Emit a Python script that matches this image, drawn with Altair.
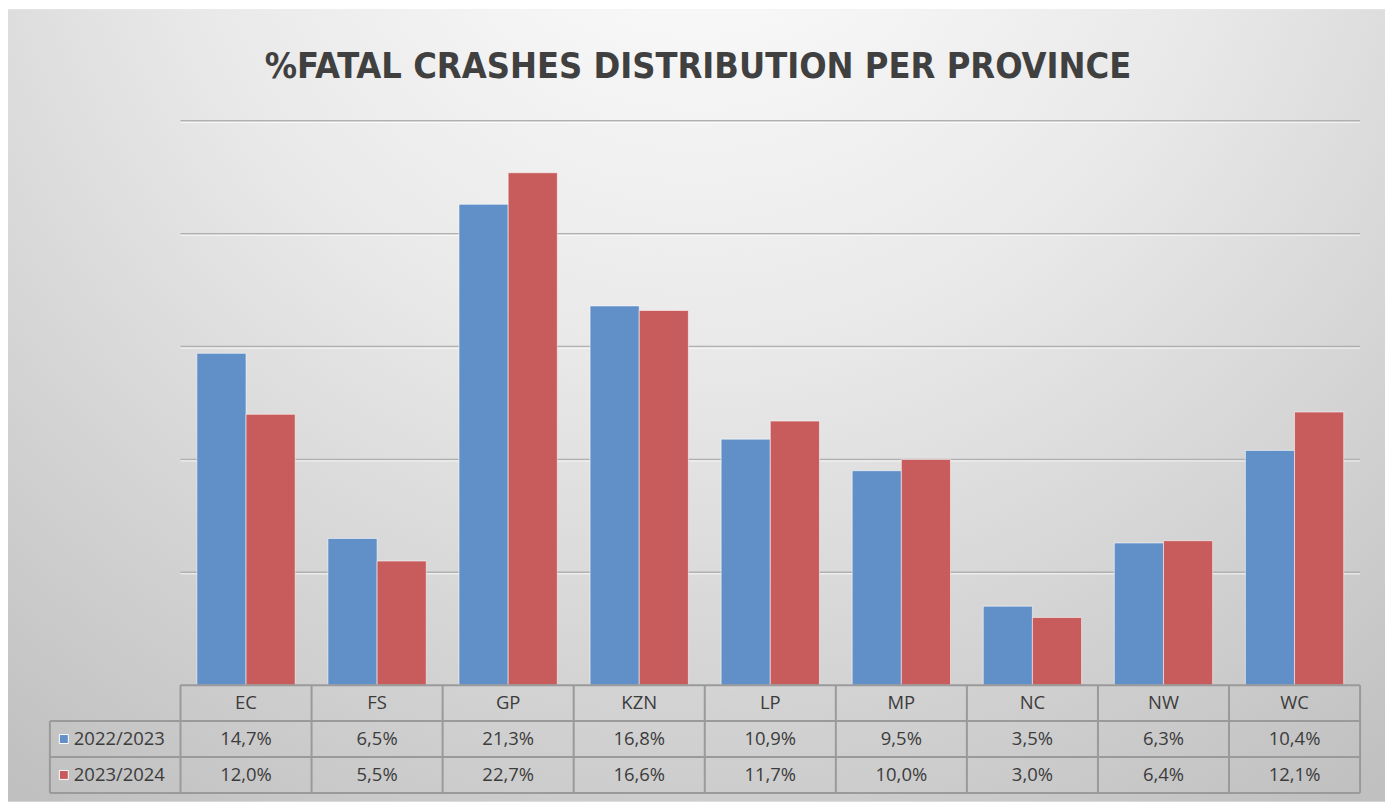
import altair as alt
import pandas as pd

# ---- data ----
categories = ["EC", "FS", "GP", "KZN", "LP", "MP", "NC", "NW", "WC"]
years = ["2022/2023", "2023/2024"]
share_2022_2023 = [14.7, 6.5, 21.3, 16.8, 10.9, 9.5, 3.5, 6.3, 10.4]
share_2023_2024 = [12.0, 5.5, 22.7, 16.6, 11.7, 10.0, 3.0, 6.4, 12.1]
grid_ticks = [5, 10, 15, 20, 25]
title_text = "%FATAL CRASHES DISTRIBUTION PER PROVINCE"

colors = ["#6190c8", "#c85c5c"]

rows = []
for yr, vals in zip(years, [share_2022_2023, share_2023_2024]):
    for c, v in zip(categories, vals):
        rows.append({"province": c, "year": yr, "share": v,
                     "label": f"{v:.1f}".replace(".", ",") + "%"})
df = pd.DataFrame(rows)
cat_df = pd.DataFrame({"province": categories})
grid_df = pd.DataFrame({"t": grid_ticks})
one = pd.DataFrame({"a": [0]})

# ---- layout ----
W, H = 1183, 566
PAD = {"left": 173, "top": 112, "right": 27, "bottom": 119}
ROW = 36
LEFT_COL = -131
FONT = "Open Sans"
TXT = "#3c3c3c"
LINE = "#9a9a9a"

x_scale = alt.Scale(domain=categories, paddingInner=0, paddingOuter=0)
y_scale = alt.Scale(domain=[0, 25], nice=False, zero=True)
x_enc = alt.X("province:N", scale=x_scale, axis=None, sort=categories)

bg = alt.Chart(one).mark_rect(
    fill=alt.RadialGradient(
        gradient="radial",
        stops=[
            alt.GradientStop(offset=0, color="#ffffff"),
            alt.GradientStop(offset=0.45, color="#e9e9e9"),
            alt.GradientStop(offset=1, color="#c0c0c0"),
        ],
        x1=0.5, y1=0.08, r1=0, x2=0.5, y2=0.08, r2=0.85,
    )
).encode(
    x=alt.value(-PAD["left"]), x2=alt.value(W + PAD["right"] - 2),
    y=alt.value(-PAD["top"]), y2=alt.value(H + PAD["bottom"] - 2),
)

grid = alt.Chart(grid_df).mark_rule(color="#b0b0b0", strokeWidth=1.5).encode(
    y=alt.Y("t:Q", scale=y_scale, axis=None),
    x=alt.value(0), x2=alt.value(W),
)
grid_hl = alt.Chart(grid_df).mark_rule(color="#ffffff", strokeWidth=1, opacity=0.8, yOffset=1.5).encode(
    y=alt.Y("t:Q", scale=y_scale, axis=None),
    x=alt.value(0), x2=alt.value(W),
)

bars = alt.Chart(df).mark_bar(stroke="#ffffff", strokeOpacity=0.55, strokeWidth=1).encode(
    x=x_enc,
    xOffset=alt.XOffset("year:N", scale=alt.Scale(domain=years, paddingOuter=0.333, paddingInner=0)),
    y=alt.Y("share:Q", scale=y_scale, axis=None),
    color=alt.Color("year:N", scale=alt.Scale(domain=years, range=colors), legend=None),
)

# table lines
hlines = [
    alt.Chart(one).mark_rule(color=LINE, strokeWidth=2).encode(
        x=alt.value(0), x2=alt.value(W), y=alt.value(H)),
]
for k in (1, 2, 3):
    hlines.append(alt.Chart(one).mark_rule(color=LINE, strokeWidth=2).encode(
        x=alt.value(LEFT_COL), x2=alt.value(W), y=alt.value(H + ROW * k)))
vlines = [
    alt.Chart(cat_df).mark_rule(color=LINE, strokeWidth=2).encode(
        x=alt.X("province:N", scale=x_scale, axis=None, sort=categories, bandPosition=0),
        y=alt.value(H), y2=alt.value(H + 3 * ROW)),
    alt.Chart(one).mark_rule(color=LINE, strokeWidth=2).encode(
        x=alt.value(W), y=alt.value(H), y2=alt.value(H + 3 * ROW)),
    alt.Chart(one).mark_rule(color=LINE, strokeWidth=2).encode(
        x=alt.value(LEFT_COL), y=alt.value(H + ROW), y2=alt.value(H + 3 * ROW)),
]

header = alt.Chart(cat_df).mark_text(font=FONT, fontSize=18.5, color=TXT, baseline="middle").encode(
    x=x_enc, y=alt.value(H + ROW / 2), text="province:N")

value_rows = []
for i, yr in enumerate(years):
    yy = H + ROW * (i + 1) + ROW / 2
    value_rows.append(
        alt.Chart(df).transform_filter(alt.datum.year == yr).mark_text(
            font=FONT, fontSize=18.5, color=TXT, baseline="middle").encode(
            x=x_enc, y=alt.value(yy), text="label:N"))
    value_rows.append(
        alt.Chart(one).mark_square(size=81, opacity=1, color=colors[i], stroke="#ffffff", strokeWidth=1).encode(
            x=alt.value(-117), y=alt.value(yy)))
    value_rows.append(
        alt.Chart(pd.DataFrame({"year": [yr]})).mark_text(
            font=FONT, fontSize=18.5, color=TXT, baseline="middle", align="left").encode(
            x=alt.value(-107), y=alt.value(yy), text="year:N"))

title = alt.Chart(pd.DataFrame({"t": [title_text]})).mark_text(
    font="'DejaVu Sans Condensed', 'Liberation Sans Narrow', 'Open Sans', sans-serif",
    fontSize=36, fontWeight="bold", color="#404040",
    baseline="alphabetic", align="center").encode(
    x=alt.value(519), y=alt.value(-43), text="t:N")

chart = alt.layer(bg, grid, grid_hl, bars, *hlines, *vlines, header, *value_rows, title).properties(
    width=W, height=H, padding=PAD, autosize=alt.AutoSizeParams(type="none"),
    background="white",
).configure_view(stroke=None)

chart.save("out.html", embed_options={"renderer": "svg", "actions": False})
